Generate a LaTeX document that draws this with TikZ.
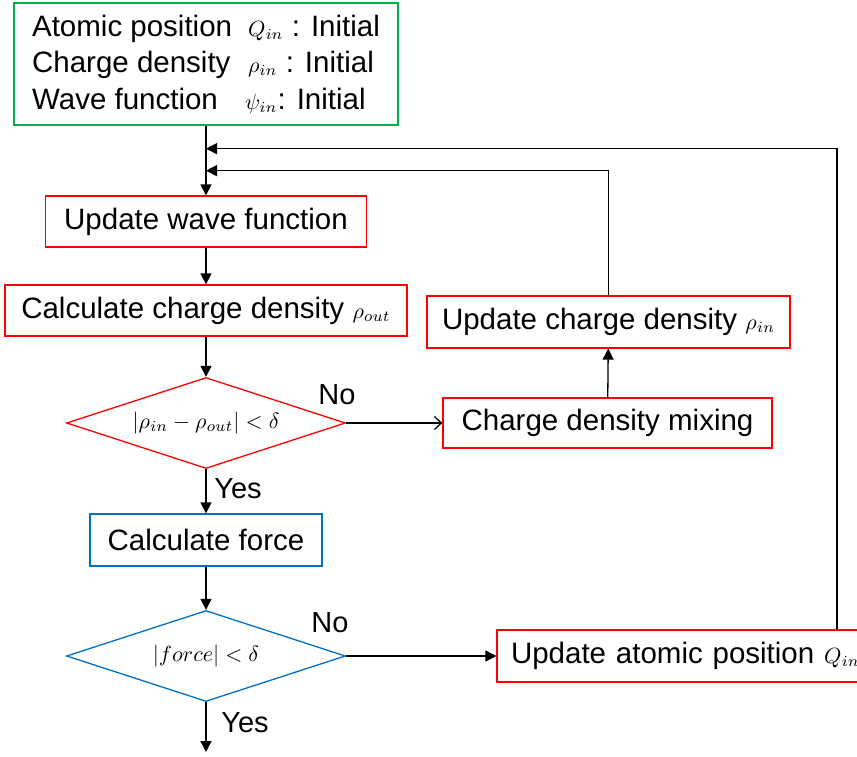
\documentclass[tikz,border=0pt]{standalone}
\usepackage{graphicx}
\usepackage{fontspec}
\setmainfont{Liberation Sans}
\usetikzlibrary{arrows.meta,shapes.geometric}
\definecolor{boxgreen}{RGB}{0,176,80}
\definecolor{boxred}{RGB}{255,0,0}
\definecolor{boxblue}{RGB}{0,112,192}
\newcommand{\mth}[1]{\scalebox{2.2}{\normalsize$#1$}}

\begin{document}
\begin{tikzpicture}[x=1pt,y=-1pt,
    box/.style={draw,line width=1.3pt,minimum height=51pt,inner sep=0pt,font=\fontsize{29.5}{35}\selectfont},
    dia/.style={draw,diamond,line width=1.3pt,inner sep=0pt,minimum width=279pt,minimum height=91pt,aspect=3},
    arr/.style={line width=1.3pt,-{Triangle[length=11pt,width=11pt]}},
    lbl/.style={font=\fontsize{29}{35}\selectfont,inner sep=0pt}]
    \clip (0,0) rectangle (857,756);
    \node[box,draw=boxgreen,minimum width=384pt,minimum height=122pt,align=left,font=\fontsize{29.5}{36.5}\selectfont] (init) at (206,64)
      {\makebox[216pt][l]{Atomic position}\mth{Q_{in}} : Initial\\
       \makebox[216pt][l]{Charge density}\mth{\rho_{in}} : Initial\\
       \makebox[213pt][l]{Wave function}\mth{\psi_{in}}: Initial};
    \node[box,draw=boxred,minimum width=321pt] (wave) at (206,221.5) {Update wave function};
    \node[box,draw=boxred,minimum width=402pt] (dens) at (206,310.5) {Calculate charge density \mth{\rho_{out}}};
    \node[dia,draw=boxred] (chk) at (206,423) {\mth{\left|\rho_{in}-\rho_{out}\right|<\delta}};
    \node[box,draw=boxred,minimum width=329pt,minimum height=50pt] (mix) at (607.5,423) {Charge density mixing};
    \node[box,draw=boxred,minimum width=363pt,minimum height=52pt] (upd) at (608.5,322) {Update charge density \mth{\rho_{in}}};
    \node[box,draw=boxblue,minimum width=232pt,minimum height=52pt] (force) at (206,540) {Calculate force};
    \node[dia,draw=boxblue] (fchk) at (206,656) {\mth{\left|\mathnormal{force}\right|<\delta}};
    \node[box,draw=boxred,minimum height=52pt,text width=362pt,inner xsep=14pt,align=left,font=\fontsize{29.5}{36}\selectfont] (pos) at (692,656) {\mbox{Update atomic position \mth{Q_{in}}}};

    \node[lbl] (no1) at (337,395) {No};
    \node[lbl] (yes1) at (238,489) {Yes};
    \node[lbl] (no2) at (330,623) {No};
    \node[lbl] (yes2) at (245,723) {Yes};

    \coordinate (j1) at ([yshift=-23pt]init.south);
    \coordinate (j2) at ([yshift=-45pt]init.south);
    \coordinate (r1) at (837,0);
    \coordinate (end) at (206,752);

    \draw[arr] (init) -- (wave);
    \draw[arr] (wave) -- (dens);
    \draw[arr] (dens) -- (chk);
    \draw[arr] (chk) -- (force);
    \draw[arr] (force) -- (fchk);
    \draw[arr] (fchk) -- (end);
    \draw[line width=1.3pt,-{Straight Barb[length=7pt,width=13pt]}] (chk) -- (mix);
    \draw[arr] (mix) -- (upd);
    \draw[arr] (upd) |- (j2);
    \draw[arr] (fchk) -- (pos);
    \draw[arr] (r1 |- pos.north) -- (r1 |- j1) -- (j1);
\end{tikzpicture}
\end{document}
